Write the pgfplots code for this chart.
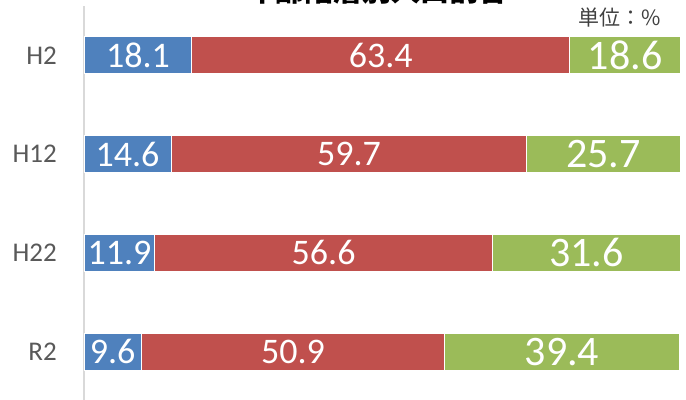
\documentclass[border=0pt]{standalone}
\usepackage{fontspec}
\setmainfont{Carlito}
\newfontfamily\cjk{Noto Sans CJK JP}
\usepackage{pgfplots}
\pgfplotsset{compat=1.18}

\definecolor{sBlue}{HTML}{4F81BD}
\definecolor{sRed}{HTML}{C0504D}
\definecolor{sGreen}{HTML}{9BBB59}
\definecolor{axGray}{HTML}{D9D9D9}
\definecolor{lblGray}{HTML}{595959}

\begin{document}
\begin{tikzpicture}
\path[use as bounding box, clip] (0,0) rectangle (686bp,-400bp);
\begin{axis}[
    at={(84bp,-6bp)}, anchor=north west,
    scale only axis,
    width=602bp, height=395bp,
    xbar stacked,
    bar width=37bp,
    xmin=0, xmax=101,
    ymin=-0.5, ymax=3.5,
    y dir=reverse,
    axis x line=none,
    axis y line*=left,
    y axis line style={axGray, line width=1.5bp},
    ytick={0,1,2,3},
    yticklabels={H2,H12,H22,R2},
    major tick length=0pt,
    yticklabel style={font=\fontsize{27bp}{27bp}\selectfont, text=lblGray,
        anchor=east, inner sep=0pt, xshift=-27bp},
    point meta=explicit symbolic,
    nodes near coords={\pgfplotspointmeta},
    % stacked bars already put the labels mid-segment
    every node near coord/.append style={font=\fontsize{36bp}{36bp}\selectfont,
        text=white, anchor=center, inner sep=0pt},
    clip=true,
]
% blue segment
\addplot[fill=sBlue, draw=white, line width=1bp] coordinates {
    (18.1,0) [18.1] (14.6,1) [14.6] (11.9,2) [11.9] (9.6,3) [9.6]
};
% red segment
\addplot[fill=sRed, draw=white, line width=1bp] coordinates {
    (63.4,0) [63.4] (59.7,1) [59.7] (56.6,2) [56.6] (50.9,3) [50.9]
};
% green segment, its labels a size larger
\addplot[fill=sGreen, draw=white, line width=1bp,
    nodes near coords style={font=\fontsize{42bp}{42bp}\selectfont}] coordinates {
    (18.6,0) [18.6] (25.7,1) [25.7] (31.6,2) [31.6] (39.4,3) [39.4]
};
\end{axis}
\node[anchor=base, inner sep=0pt, font=\cjk\bfseries\fontsize{29bp}{29bp}\selectfont]
    at (377bp,-1.6bp) {年齢階層別人口割合};
\node[anchor=base west, inner sep=0pt, text=black!75,
    font=\cjk\fontsize{21bp}{21bp}\selectfont] at (578bp,-25bp) {単位：\%};
\end{tikzpicture}
\end{document}
